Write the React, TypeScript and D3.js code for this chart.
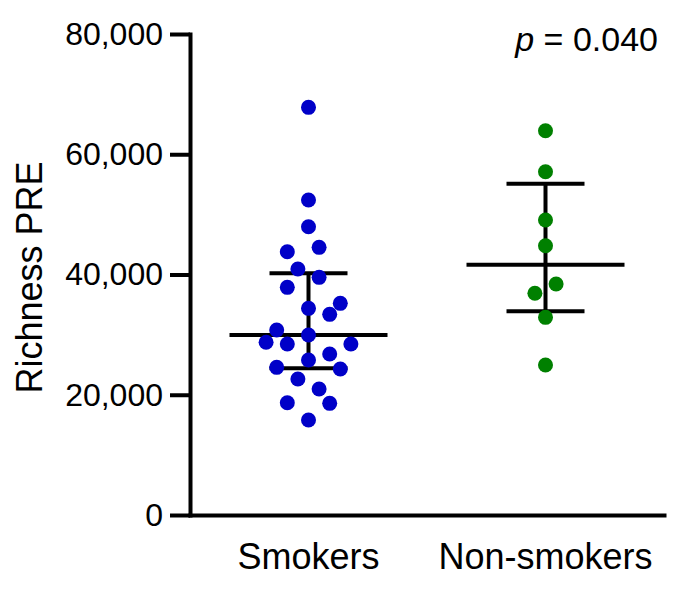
import React, { useRef, useEffect } from "react";
import { scaleBand, scaleLinear, axisLeft, axisBottom, select, format } from "d3";

// values (richness), with GraphPad-style column slot of each dot
const categories = ["Smokers", "Non-smokers"];
const smokers = [
  67800, 52400, 47950, 43790, 44520, 40910, 39530, 37860, 35200, 34370, 33370,
  30770, 28720, 28440, 29930, 28440, 26770, 25780, 24560, 24280, 22620, 20950,
  18680, 18570, 15800
];
const smokersSlot = [0, 0, 0, -2, 1, -1, 1, -2, 3, 0, 2, -3, -4, -2, 0, 4, 2, 0, -3, 3, -1, 1, -2, 2, 0];
const nonSmokers = [63910, 57090, 49060, 44790, 38420, 36870, 32870, 24950];
const nonSmokersSlot = [0, 0, 0, 0, 1, -1, 0, 0];
const yTicks = [0, 20000, 40000, 60000, 80000];
const pLabel = "0.040";

const colors = ["#0000c8", "#008000"];

// quantile the way Prism does it: position (n+1)p
function q6(vals: number[], p: number) {
  const s = [...vals].sort((a, b) => a - b);
  const pos = (s.length + 1) * p - 1;
  const lo = Math.max(0, Math.floor(pos));
  const hi = Math.min(s.length - 1, lo + 1);
  return s[lo] + (pos - lo) * (s[hi] - s[lo]);
}

export default function App() {
  const width = 678,
    height = 590,
    marginLeft = 190,
    marginTop = 34,
    marginBottom = 75,
    marginRight = 14;
  const font = "'Liberation Sans', Arial, sans-serif";

  const xAxisRef = useRef(null);
  const yAxisRef = useRef(null);

  const xScale = scaleBand()
    .domain(categories)
    .range([marginLeft, width - marginRight]);

  const yScale = scaleLinear()
    .domain([0, 80000])
    .range([height - marginBottom, marginTop]);

  const slotScale = scaleLinear().domain([0, 1]).range([0, 10.6]);

  const groups = [
    { name: categories[0], values: smokers, slots: smokersSlot, color: colors[0] },
    { name: categories[1], values: nonSmokers, slots: nonSmokersSlot, color: colors[1] }
  ];

  useEffect(() => {
    const yAxis = axisLeft(yScale)
      .tickValues(yTicks)
      .tickFormat(format(","))
      .tickSize(20)
      .tickSizeOuter(0)
      .tickPadding(7);
    const xAxis = axisBottom(xScale).tickSize(0).tickSizeOuter(0).tickPadding(28);
    const gy = select(yAxisRef.current).call(yAxis);
    const gx = select(xAxisRef.current).call(xAxis);
    [gx, gy].forEach(g => {
      g.selectAll("path, line").attr("stroke", "#000").attr("stroke-width", 4);
      g.select(".domain").attr("stroke-linecap", "square");
      g.selectAll("text").attr("fill", "#000").style("font-family", font);
    });
    gx.selectAll(".tick line").remove();
    gy.selectAll("text").style("font-size", "32px");
    gx.selectAll("text").style("font-size", "36px");
  }, []);

  const cx = (name: string) => (xScale(name) as number) + xScale.bandwidth() / 2;

  return (
    <svg width={width} height={height} style={{ position: "absolute", left: 0, top: 0 }}>
      <rect width={width} height={height} fill="#fff" />
      <g ref={yAxisRef} transform={`translate(${marginLeft},0)`} />
      <g ref={xAxisRef} transform={`translate(0,${height - marginBottom})`} />
      <text
        transform={`translate(42, ${(marginTop + height - marginBottom) / 2 + 3}) rotate(-90)`}
        textAnchor="middle"
        style={{ fontFamily: font, fontSize: 36, fill: "#000" }}
      >
        Richness PRE
      </text>
      <text
        x={658}
        y={51}
        textAnchor="end"
        style={{ fontFamily: font, fontSize: 34, fill: "#000" }}
      >
        <tspan fontStyle="italic">p</tspan> = {pLabel}
      </text>
      {groups.map(gr => {
        const c = cx(gr.name);
        const med = q6(gr.values, 0.5);
        const lo = q6(gr.values, 0.25);
        const hi = q6(gr.values, 0.75);
        return (
          <g key={gr.name}>
            <g stroke="#000" strokeWidth={4}>
              <line x1={c - 79} x2={c + 79} y1={yScale(med)} y2={yScale(med)} />
              <line x1={c} x2={c} y1={yScale(lo)} y2={yScale(hi)} />
              <line x1={c - 39} x2={c + 39} y1={yScale(lo)} y2={yScale(lo)} />
              <line x1={c - 39} x2={c + 39} y1={yScale(hi)} y2={yScale(hi)} />
            </g>
            {gr.values.map((v, i) => (
              <circle
                key={i}
                cx={c + slotScale(gr.slots[i])}
                cy={yScale(v)}
                r={7.5}
                fill={gr.color}
              />
            ))}
          </g>
        );
      })}
    </svg>
  );
}
